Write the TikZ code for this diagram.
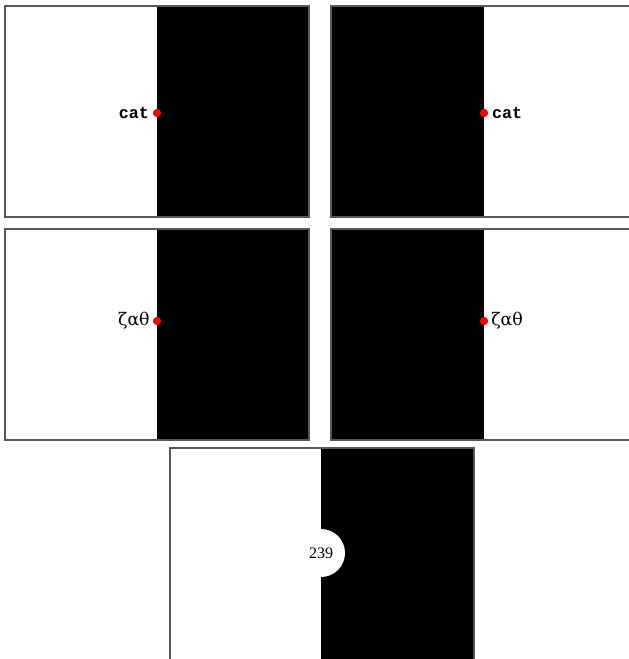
\documentclass[tikz,border=0pt]{standalone}
\usepackage{fontspec}
\setmainfont{Liberation Serif}
\setmonofont{Liberation Mono}
\newfontfamily\greekfont{DejaVu Serif}
\usetikzlibrary{positioning}

\begin{document}
\begin{tikzpicture}[x=0.75pt,y=-0.75pt,
  frame/.style={draw=gray!70!black,line width=1.1pt},
  dot/.style={circle,fill=red,inner sep=0pt,minimum size=6.2pt},
  word/.style={inner sep=0pt,font=\fontsize{12.5}{14}\ttfamily\bfseries},
  greek/.style={inner sep=0pt,font=\fontsize{13}{15}\greekfont}]
  \useasboundingbox (0,0) rectangle (628,659);
  % two rows of panels: left ones black on the right, right ones black on the left
  \foreach \t in {6,229} {
    \fill[black] (157,\t) rectangle (309,\t+211);
    \draw[frame] (5,\t) rectangle (309,\t+211);
    \fill[black] (331,\t) rectangle (484,\t+211);
    \draw[frame] (331,\t) rectangle (640,\t+211);
  }
  % edge points
  \node[dot] (dA) at (157,113) {};
  \node[dot] (dB) at (484,113) {};
  \node[dot] (dC) at (157,321) {};
  \node[dot] (dD) at (484,321) {};
  \node[word,left=2.5pt of dA] (wA) {cat};
  \node[word,right=2.5pt of dB] (wB) {cat};
  \node[greek,left=2pt of dC] (wC) {ζαθ};
  \node[greek,right=2pt of dD] (wD) {ζαθ};
  % bottom panel with a bite out of the black half
  \fill[black] (321,448) rectangle (474,670);
  \draw[frame] (170,448) rectangle (474,670);
  \fill[white] (321,553) circle (24);
  \node[font=\fontsize{12}{14}\selectfont] (num) at (321,553) {239};
\end{tikzpicture}
\end{document}
